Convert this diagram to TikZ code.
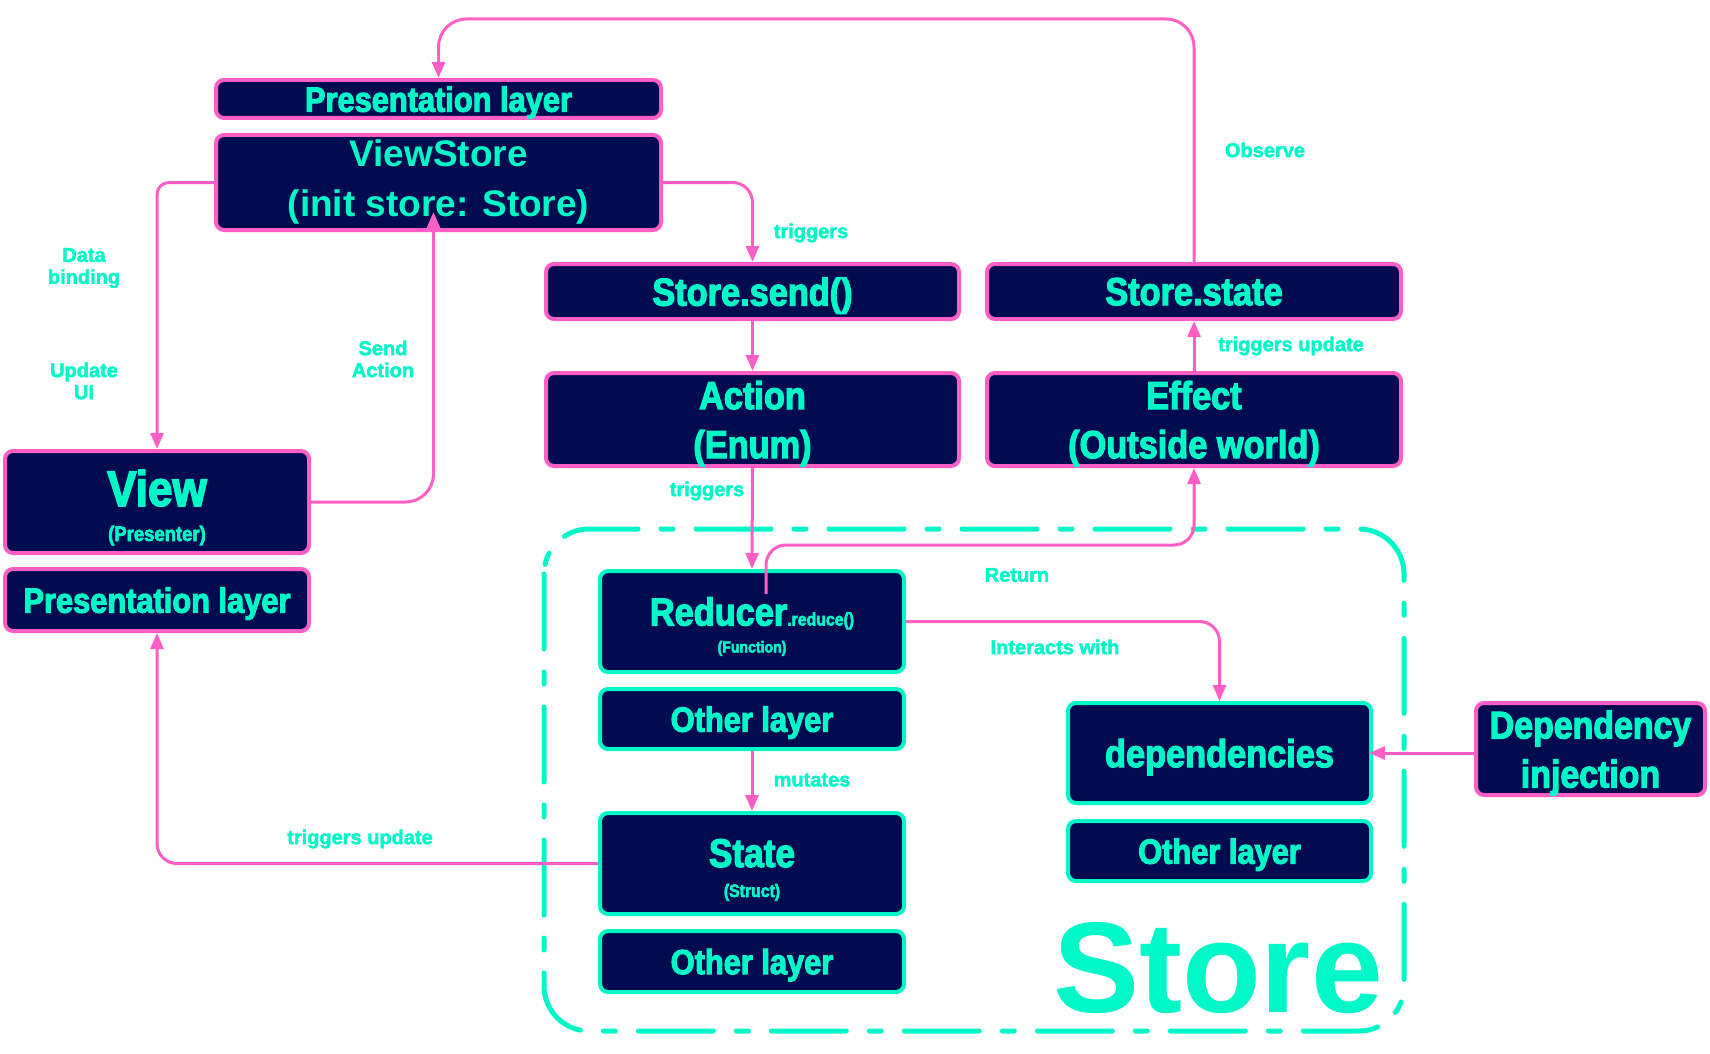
\documentclass[tikz,border=0pt]{standalone}
\usepackage{fontspec}
\setmainfont{Liberation Sans}
\newfontfamily\heavyfont[FakeStretch=0.88,FakeBold=3,BoldFeatures={FakeBold=3}]{Liberation Sans}
\newfontfamily\lblfont[FakeBold=2,BoldFeatures={FakeBold=2}]{Liberation Sans}
\usepackage{xcolor}
\usetikzlibrary{arrows.meta}

\definecolor{navy}{HTML}{020B4F}
\definecolor{pinkline}{HTML}{FF5FC5}
\definecolor{mint}{HTML}{00F7C8}
\newcommand{\setsz}[2]{\fontsize{#1}{#2}\selectfont}

\begin{document}
\begin{tikzpicture}[x=1pt, y=-1pt,
  box/.style={draw=pinkline, line width=4pt, fill=navy, rounded corners=8pt,
    text=mint, inner sep=0pt, align=center, text depth=0pt},
  storebox/.style={box, draw=mint},
  link/.style={draw=pinkline, line width=3pt, rounded corners=20pt},
  tip/.style={-{Triangle[length=16pt,width=13pt]}},
  lbl/.style={text=mint, font=\lblfont\bfseries\setsz{20}{22}, align=center}]
  \useasboundingbox (0,0) rectangle (1710,1054);

  % the store region
  \draw[mint, line width=5pt, rounded corners=45pt, line cap=round,
    dash pattern=on 75pt off 23pt on 12pt off 23pt] (544,529) rectangle (1404,1031);
  \node[anchor=base, text=mint, font=\bfseries\setsz{129}{130}] (storetitle) at (1218,1012) {Store};

  % presentation side
  \node[box, minimum width=445, minimum height=38, font=\heavyfont\bfseries\setsz{35}{37}] (prestop) at (438.5,99) {Presentation layer};
  \node[box, minimum width=445, minimum height=95, text depth=8pt, font=\bfseries\setsz{37}{50}] (vstore) at (438.5,182.5) {ViewStore\\(init store: Store)};
  \node[box, minimum width=304, minimum height=102, text height=78pt, font=\heavyfont\bfseries\setsz{50}{35}] (view) at (157,502) {View\\{\setsz{21}{23}(Presenter)}};
  \node[box, minimum width=304, minimum height=62, font=\heavyfont\bfseries\setsz{35}{37}] (presbot) at (157,600) {Presentation layer};

  % store api
  \node[box, minimum width=413, minimum height=55, font=\heavyfont\bfseries\setsz{39}{41}] (send) at (752.5,291.5) {Store.send()};
  \node[box, minimum width=414, minimum height=55, font=\heavyfont\bfseries\setsz{39}{41}] (ststate) at (1194,291.5) {Store.state};
  \node[box, minimum width=413, minimum height=93, font=\heavyfont\bfseries\setsz{39}{49}] (action) at (752.5,419.5) {Action\\(Enum)};
  \node[box, minimum width=414, minimum height=93, font=\heavyfont\bfseries\setsz{39}{49}] (effect) at (1194,419.5) {Effect\\(Outside world)};

  % inside the store
  \node[storebox, minimum width=304, minimum height=101, text height=62pt, font=\heavyfont\bfseries\setsz{39}{27}] (reducer) at (752,621.5) {Reducer{\setsz{18}{20}.reduce()}\\{\setsz{16}{18}(Function)}};
  \node[storebox, minimum width=304, minimum height=60, font=\heavyfont\bfseries\setsz{35}{37}] (otherA) at (752,719) {Other layer};
  \node[storebox, minimum width=304, minimum height=101, text height=67pt, font=\heavyfont\bfseries\setsz{40}{30}] (sstate) at (752,863.5) {State\\{\setsz{18}{20}(Struct)}};
  \node[storebox, minimum width=304, minimum height=61, font=\heavyfont\bfseries\setsz{35}{37}] (otherB) at (752,961.5) {Other layer};
  \node[storebox, minimum width=303, minimum height=100, font=\heavyfont\bfseries\setsz{39}{41}] (deps) at (1219.5,753) {dependencies};
  \node[storebox, minimum width=303, minimum height=60, font=\heavyfont\bfseries\setsz{35}{37}] (otherC) at (1219.5,851) {Other layer};
  \node[box, minimum width=229, minimum height=92, font=\heavyfont\bfseries\setsz{38.5}{49}] (inject) at (1590.5,749) {Dependency\\injection};

  % connectors
  \draw[link, tip, rounded corners=28pt] (ststate.north) -- ++(0,-243) -| (prestop.north);
  \draw[link, tip, rounded corners=12pt] (vstore.west) -| (view.north);
  \draw[link, tip, rounded corners=28pt, shorten >=-20pt] (view.east) -| ([xshift=-5pt]vstore.south);
  \draw[link, tip] (vstore.east) -| (send.north);
  \draw[link, tip] (send.south) -- (action.north);
  \draw[link, tip] (action.south) -- (reducer.north);
  \coordinate (retstart) at (766,594);
  \draw[link, tip] (retstart) -- ++(0,-49) -| (effect.south);
  \draw[link, tip] (effect.north) -- (ststate.south);
  \draw[link, tip] (reducer.east) -| (deps.north);
  \draw[link, tip] (otherA.south) -- (sstate.north);
  \draw[link, tip] (sstate.west) -| (presbot.south);
  \draw[link, tip, shorten >=-4pt] (inject.west |- deps.east) -- (deps.east);

  % connector labels
  \node[lbl] (lobserve) at (1265,150) {Observe};
  \node[lbl] (ltrigA) at (811,233) {triggers};
  \node[lbl] (lbind) at (84,268) {Data\\binding};
  \node[lbl] (lupdui) at (84,381) {Update\\UI};
  \node[lbl] (lsend) at (383,359) {Send\\Action};
  \node[lbl] (lupdA) at (1291,346) {triggers update};
  \node[lbl] (ltrigB) at (707,491) {triggers};
  \node[lbl] (lreturn) at (1017,575) {Return};
  \node[lbl] (linter) at (1055,647) {Interacts with};
  \node[lbl] (lmutate) at (812,780) {mutates};
  \node[lbl] (lupdB) at (360,839) {triggers update};
\end{tikzpicture}
\end{document}
